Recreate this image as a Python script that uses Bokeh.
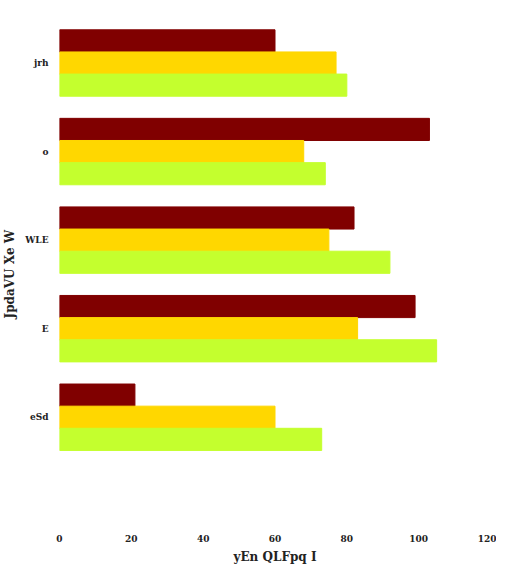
from bokeh.plotting import figure
from bokeh.embed import file_html
from bokeh.resources import INLINE
from bokeh.models import FixedTicker

categories = ["eSd", "E", "WLE", "O", "jrh"]
s1 = [21, 99, 82, 103, 60]
s2 = [60, 83, 75, 68, 77]
s3 = [73, 105, 92, 74, 80]
colors = ["#800000", "#ffd700", "#c4ff2e"]
xticks = [0, 20, 40, 60, 80, 100, 120]

p = figure(width=496, height=566, output_backend="svg", toolbar_location=None,
           x_range=(0, 120), y_range=(-1.2, 4.48), min_border_left=10, min_border_top=20,
           min_border_right=6)
ys = list(range(len(categories)))
for vals, off, c in [(s1, 0.25, colors[0]), (s2, 0.0, colors[1]), (s3, -0.25, colors[2])]:
    p.hbar(y=[y + off for y in ys], right=vals, left=0, height=0.25, color=c)

p.xaxis.ticker = FixedTicker(ticks=xticks)
p.yaxis.ticker = FixedTicker(ticks=ys)
p.yaxis.major_label_overrides = {i: (c if c != "O" else "o") for i, c in enumerate(categories)}
for ax in (p.xaxis, p.yaxis):
    ax.axis_line_color = None
    ax.major_tick_line_color = None
    ax.minor_tick_line_color = None
    ax.major_label_text_font = "DejaVu Serif"
    ax.major_label_text_font_style = "bold"
    ax.major_label_text_font_size = "9px"
    ax.major_label_text_color = "#222222"
    ax.axis_label_text_font = "DejaVu Serif"
    ax.axis_label_text_font_style = "bold"
    ax.axis_label_text_font_size = "12px"
    ax.axis_label_text_color = "#222222"
p.xaxis.axis_label = "yEn QLFpq I"
p.yaxis.axis_label = "JpdaVU Xe  W"
p.xgrid.visible = False
p.ygrid.visible = False
p.outline_line_color = None

open("out.html", "w").write(file_html(p, INLINE))
